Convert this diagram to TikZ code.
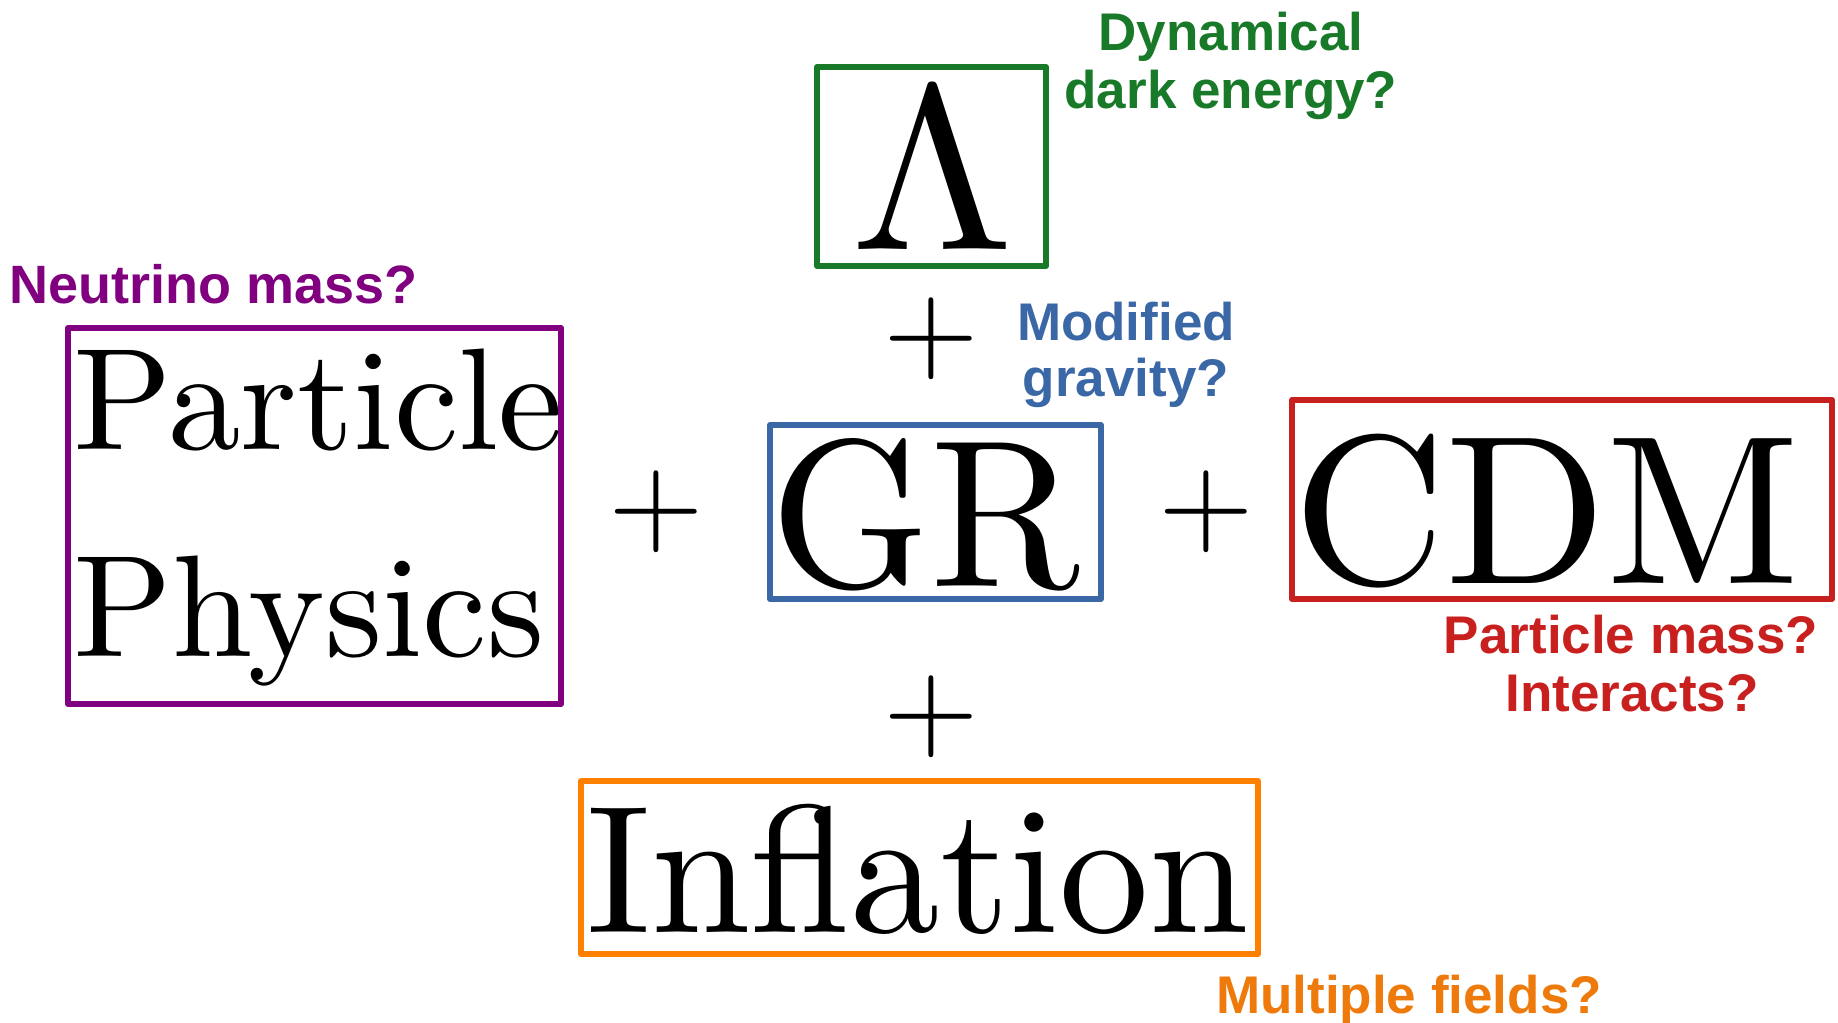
\documentclass[tikz,border=0pt]{standalone}
\usepackage{fontspec}
\newfontfamily\lab{Liberation Sans}
\newfontfamily\lmten{lmroman10-regular.otf}
\definecolor{cgreen}{RGB}{24,122,40}
\definecolor{cpurple}{RGB}{128,0,128}
\definecolor{cblue}{RGB}{58,103,166}
\definecolor{cred}{RGB}{200,32,31}
\definecolor{corange}{RGB}{255,127,0}
\definecolor{torange}{RGB}{238,122,12}
\begin{document}
\begin{tikzpicture}[x=0.5pt,y=-0.5pt,
  lbl/.style={inner sep=0pt, anchor=base, font=\lab\bfseries\fontsize{26.5}{30}\selectfont},
  big/.style={inner sep=0pt, anchor=base west},
  frame/.style={line width=3pt, line join=round},
  plussign/.style={inner sep=0pt, font=\lmten\fontsize{61.5}{61.5}\selectfont}]
\useasboundingbox (0,0) rectangle (1838,1023);
% frames
\draw[frame, cgreen] (817,67) rectangle (1046,266);
\draw[frame, cpurple] (68,328) rectangle (561,704);
\draw[frame, cblue] (770,425) rectangle (1101,599);
\draw[frame, cred] (1292,400) rectangle (1832,599);
\draw[frame, corange] (581,781) rectangle (1258,954);
% main texts
\node[inner sep=0pt, anchor=base, font=\lmten\fontsize{117}{117}\selectfont] (lam) at (933,249) {Λ};
\node[big, font=\lmten\fontsize{72.5}{72.5}\selectfont] (part) at (73,449) {Particle};
\node[big, font=\lmten\fontsize{72.5}{72.5}\selectfont] (phys) at (73,656) {Physics};
\node[big, font=\lmten\fontsize{105}{105}\selectfont] (gr) at (770,586) {\scalebox{0.97}[1]{GR}};
\node[big, font=\lmten\fontsize{106}{106}\selectfont] (cdm) at (1293,583) {\scalebox{0.995}[1]{CDM}};
\node[big, font=\lmten\fontsize{91}{91}\selectfont] (infl) at (586,932) {\scalebox{0.985}[1]{Inflation}};
% plus signs
\node[plussign] (p1) at (656,512) {+};
\node[plussign] (p2) at (931,339) {+};
\node[plussign] (p3) at (1206,512) {+};
\node[plussign] (p4) at (931,717) {+};
% labels
\node[lbl, cgreen] (dyn1) at (1231,50) {Dynamical};
\node[lbl, cgreen] (dyn2) at (1231,108) {dark energy?};
\node[lbl, cpurple, font=\lab\bfseries\fontsize{27}{30}\selectfont] (neu) at (214,303) {Neutrino mass?};
\node[lbl, cblue] (mod1) at (1126,340) {Modified};
\node[lbl, cblue] (mod2) at (1126,396) {gravity?};
\node[lbl, cred] (pm1) at (1631,653) {Particle mass?};
\node[lbl, cred] (pm2) at (1632,711) {Interacts?};
\node[lbl, torange] (mf) at (1409,1013) {Multiple fields?};
\end{tikzpicture}
\end{document}
